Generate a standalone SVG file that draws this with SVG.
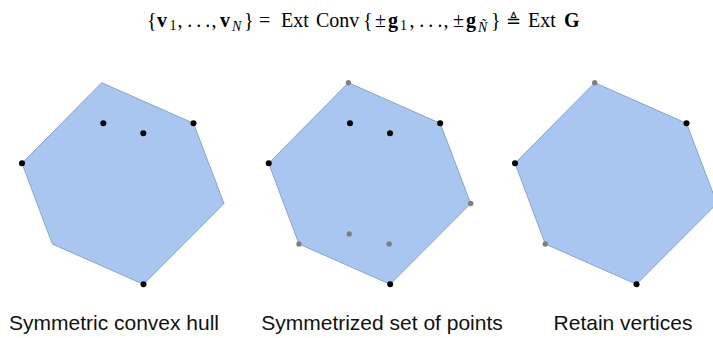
<svg xmlns="http://www.w3.org/2000/svg" width="713" height="338" viewBox="0 0 713 338">
<style>
.m{font-family:"Liberation Serif","DejaVu Serif",serif;font-size:20px;fill:#000}
.b{font-weight:bold}
.s{font-size:14px}
.i{font-style:italic}
.hull{fill:#a9c6f0;stroke:#7f9dcc;stroke-width:0.9;stroke-linejoin:round}
.k{fill:#000}
.g{fill:#808080}
.lbl{font-family:"Liberation Sans",Arial,sans-serif;font-size:21px;fill:#111;text-anchor:middle}
</style>
<defs>
<polygon id="hex" points="101.7,82.7 193.5,123.3 224,203.5 143.5,284.3 52.3,244 22,163.3"/>
</defs>
<g id="title" class="m">
<text x="147" y="27">{</text>
<text x="157" y="27" class="b">v</text>
<text x="169.5" y="30" class="s">1</text>
<text x="177.5" y="27">,</text>
<text x="187.2" y="27">.</text>
<text x="196.2" y="27">.</text>
<text x="205.3" y="27">.</text>
<text x="211.5" y="27">,</text>
<text x="220" y="27" class="b">v</text>
<text x="232" y="31" class="s i">N</text>
<text x="244" y="27">}</text>
<text x="259" y="27">=</text>
<text x="281" y="27">Ext</text>
<text x="316" y="27">Conv</text>
<text x="363" y="27">{</text>
<text x="375" y="27">±</text>
<text x="388" y="27" class="b">g</text>
<text x="400" y="30" class="s">1</text>
<text x="409.5" y="27">,</text>
<text x="419.2" y="27">.</text>
<text x="428.3" y="27">.</text>
<text x="437.4" y="27">.</text>
<text x="443.5" y="27">,</text>
<text x="453" y="27">±</text>
<text x="466" y="27" class="b">g</text>
<text x="478" y="32" class="s i">Ñ</text>
<text x="491" y="27">}</text>
<text x="506" y="27" font-family="DejaVu Sans, sans-serif" font-size="18px">≜</text>
<text x="528" y="27">Ext</text>
<text x="564" y="27" class="b">G</text>
</g>
<g id="panel1">
<use href="#hex" class="hull"/>
<circle cx="193.5" cy="123.3" r="3" class="k"/>
<circle cx="22" cy="163.3" r="3" class="k"/>
<circle cx="143.5" cy="284.3" r="3" class="k"/>
<circle cx="103.3" cy="123.3" r="3" class="k"/>
<circle cx="143.3" cy="133.3" r="3" class="k"/>
</g>
<g id="panel2" transform="translate(246.7,0)">
<use href="#hex" class="hull"/>
<circle cx="101.7" cy="82.7" r="2.7" class="g"/>
<circle cx="224" cy="203.5" r="2.7" class="g"/>
<circle cx="52.3" cy="244" r="2.7" class="g"/>
<circle cx="102.5" cy="233.9" r="2.7" class="g"/>
<circle cx="142.5" cy="243.9" r="2.7" class="g"/>
<circle cx="193.5" cy="123.3" r="3" class="k"/>
<circle cx="22" cy="163.3" r="3" class="k"/>
<circle cx="143.5" cy="284.3" r="3" class="k"/>
<circle cx="103.3" cy="123.3" r="3" class="k"/>
<circle cx="143.3" cy="133.3" r="3" class="k"/>
</g>
<g id="panel3" transform="translate(493,0)">
<use href="#hex" class="hull"/>
<circle cx="101.7" cy="82.7" r="2.7" class="g"/>
<circle cx="52.3" cy="244" r="2.7" class="g"/>
<circle cx="193.5" cy="123.3" r="3" class="k"/>
<circle cx="22" cy="163.3" r="3" class="k"/>
<circle cx="143.5" cy="284.3" r="3" class="k"/>
</g>
<g id="labels">
<text x="114" y="330" class="lbl">Symmetric convex hull</text>
<text x="382" y="330" class="lbl">Symmetrized set of points</text>
<text x="623" y="330" class="lbl">Retain vertices</text>
</g>
</svg>
